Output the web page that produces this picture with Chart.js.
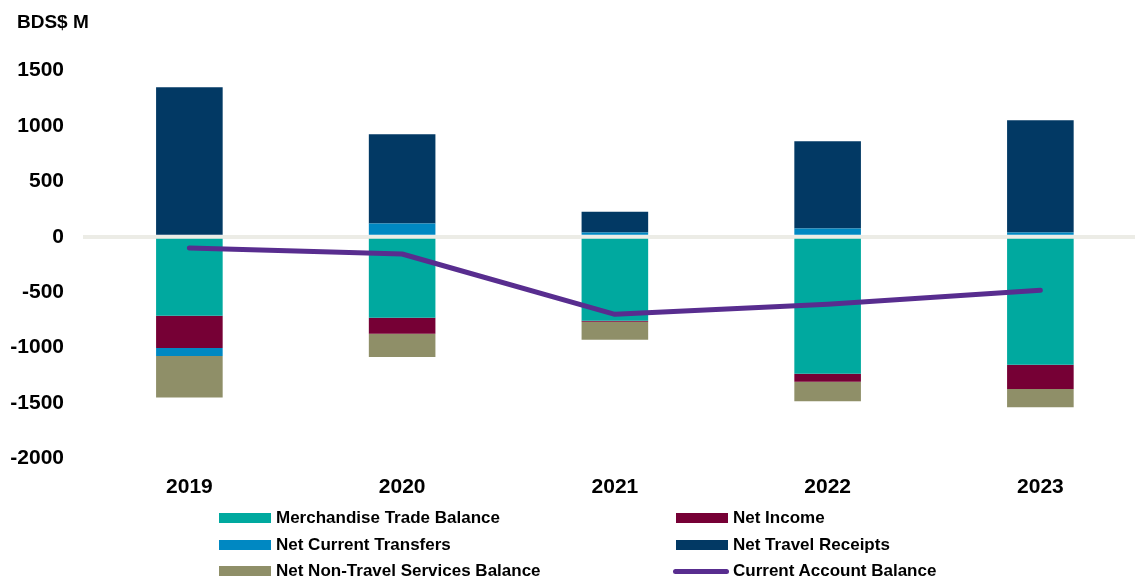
<!DOCTYPE html>
<html>
<head>
<meta charset="utf-8">
<script src="https://cdn.jsdelivr.net/npm/chart.js@4.4.1/dist/chart.umd.min.js"></script>
<style>
  html, body { margin: 0; padding: 0; background: #fff; overflow: hidden; width: 1135px; height: 581px; }
  #wrap { position: relative; width: 1150px; height: 581px; }
  #chart { position: absolute; left: 0; top: 0; }
  .txt { position: absolute; font-family: "Liberation Sans", Arial, sans-serif; font-weight: bold; color: #000; white-space: nowrap; }
  .unit { left: 17px; top: 11px; font-size: 19px; }
  .item { position: absolute; height: 20px; display: flex; align-items: center; }
  .sw { width: 52px; height: 10px; margin-right: 5px; }
  .sw.line { height: 5px; border-radius: 3px; margin-right: 4px; }
  .item span { font-family: "Liberation Sans", Arial, sans-serif; font-weight: bold; font-size: 17px; color: #000; }
</style>
</head>
<body>
<div id="wrap">
  <canvas id="chart" width="1150" height="581"></canvas>
  <div class="txt unit">BDS$ M</div>
  <div id="legend"></div>
</div>
<script>
const years = ["2019", "2020", "2021", "2022", "2023"];
const merchandise = [-713, -731, -758, -1236, -1155];
const netIncome = [-291, -144, -10, -72, -219];
const currentTransfers = [-73, 121, 40, 76, 40];
const nonTravel = [-373, -210, -162, -177, -165];
const travelReceipts = [1351, 806, 186, 788, 1013];
const currentAccount = [-100, -155, -700, -610, -482];
const yTicks = [-2000, -1500, -1000, -500, 0, 500, 1000, 1500];

// 棒の積み上げ順 (ゼロから外側へ)
const barSeries = [
  { name: "Merchandise Trade Balance", data: merchandise, color: "#00A99F" },
  { name: "Net Income", data: netIncome, color: "#760035" },
  { name: "Net Current Transfers", data: currentTransfers, color: "#0088C2" },
  { name: "Net Non-Travel Services Balance", data: nonTravel, color: "#8F8F68" },
  { name: "Net Travel Receipts", data: travelReceipts, color: "#023964" }
];
const lineName = "Current Account Balance";
const lineColor = "#582D8F";

const datasets = barSeries.map(s => ({
  type: "bar",
  label: s.name,
  data: s.data,
  backgroundColor: s.color,
  borderWidth: 0,
  barPercentage: 0.313,
  categoryPercentage: 1,
  stack: "bal",
  order: 1
}));
datasets.push({
  type: "line",
  label: lineName,
  data: currentAccount,
  borderColor: lineColor,
  borderWidth: 5,
  borderCapStyle: "round",
  borderJoinStyle: "round",
  pointRadius: 0,
  tension: 0,
  fill: false,
  stack: "cab",
  order: 0
});

const font = { family: "'Liberation Sans', Arial, sans-serif", weight: "bold", size: 21 };

new Chart(document.getElementById("chart"), {
  data: { labels: years, datasets },
  options: {
    responsive: false,
    animation: false,
    layout: { padding: { top: 70.7, bottom: 72.7, left: 0, right: 3.25 } },
    plugins: { legend: { display: false }, tooltip: { enabled: false } },
    scales: {
      x: {
        stacked: true,
        grid: { display: false },
        border: { display: false },
        ticks: { color: "#000", font, padding: 8 },
        afterFit: s => { s.height = 50; }
      },
      y: {
        stacked: true,
        min: -2000,
        max: 1500,
        z: 1,
        border: { display: false },
        grid: {
          drawTicks: false,
          lineWidth: 4,
          color: c => (c.tick && c.tick.value === 0 ? "#ECECE6" : "rgba(0,0,0,0)")
        },
        afterBuildTicks: s => { s.ticks = yTicks.map(v => ({ value: v })); },
        ticks: { color: "#000", font, padding: 19, callback: v => String(v) },
        afterFit: s => { s.width = 83; }
      }
    }
  }
});

// 凡例 (2列)
const legendEl = document.getElementById("legend");
const legendItems = [
  { name: barSeries[0].name, color: barSeries[0].color, col: 0, row: 0 },
  { name: barSeries[1].name, color: barSeries[1].color, col: 1, row: 0 },
  { name: barSeries[2].name, color: barSeries[2].color, col: 0, row: 1 },
  { name: barSeries[4].name, color: barSeries[4].color, col: 1, row: 1 },
  { name: barSeries[3].name, color: barSeries[3].color, col: 0, row: 2 },
  { name: lineName, color: lineColor, col: 1, row: 2, line: true }
];
const colX = [219, 676];
const rowY = [508, 535, 561];
legendItems.forEach(it => {
  const d = document.createElement("div");
  d.className = "item";
  d.style.left = (it.line ? colX[it.col] - 3 : colX[it.col]) + "px";
  d.style.top = rowY[it.row] + "px";
  const sw = document.createElement("div");
  sw.className = it.line ? "sw line" : "sw";
  if (it.line) sw.style.width = "56px";
  sw.style.background = it.color;
  const t = document.createElement("span");
  t.textContent = it.name;
  d.appendChild(sw);
  d.appendChild(t);
  legendEl.appendChild(d);
});
</script>
</body>
</html>
